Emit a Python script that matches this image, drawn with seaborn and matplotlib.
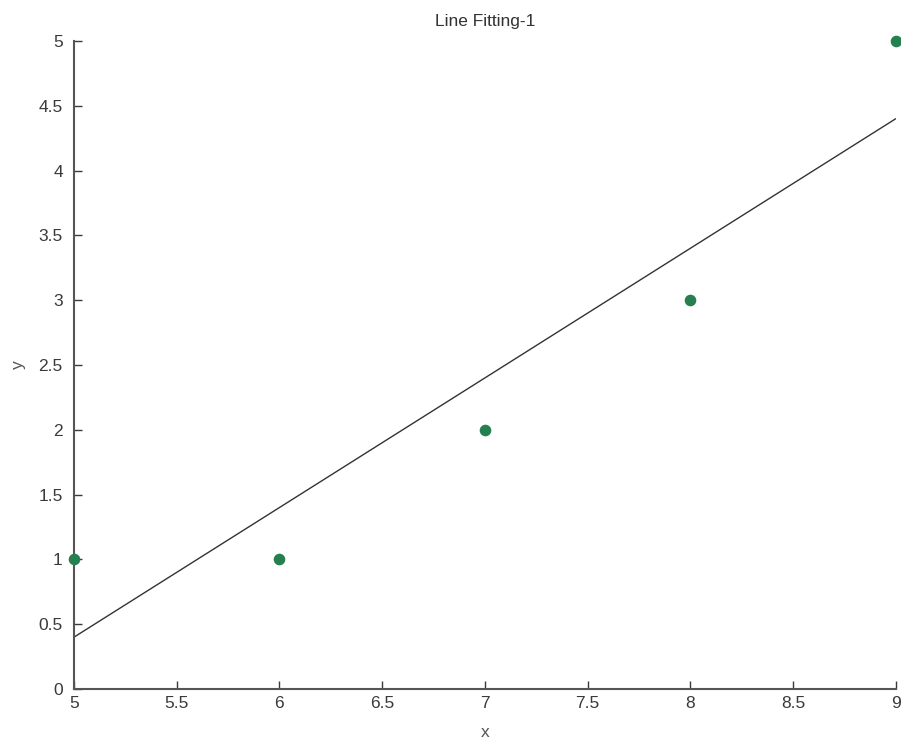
import numpy as np
import pandas as pd
import matplotlib
matplotlib.use("Agg")
import matplotlib.pyplot as plt
import seaborn as sns

# data points
x_vals = [5, 6, 7, 8, 9]
y_vals = [1, 1, 2, 3, 5]
# fitted line endpoints (slope 1, intercept -4.6)
fit_x = [5, 9]
fit_y = [0.4, 4.4]

df = pd.DataFrame({"x": x_vals, "y": y_vals})
fit = pd.DataFrame({"x": fit_x, "y": fit_y})

sns.set_style("ticks")
plt.rcParams["font.family"] = ["Liberation Sans", "DejaVu Sans"]
plt.rcParams["xtick.direction"] = "in"
plt.rcParams["ytick.direction"] = "in"

fig = plt.figure(figsize=(9.01, 7.44), dpi=100)
ax = fig.add_axes([0.0821, 0.0739, 0.912, 0.871])

sns.lineplot(data=fit, x="x", y="y", ax=ax, color="#333333", linewidth=1.0)
sns.scatterplot(data=df, x="x", y="y", ax=ax, color="#24804f", s=70,
                edgecolor="#24804f", linewidth=0, clip_on=False, zorder=3)

ax.set_xlim(5, 9)
ax.set_ylim(0, 5)
ax.set_xticks(np.arange(5, 9.01, 0.5))
ax.set_yticks(np.arange(0, 5.01, 0.5))
ax.set_xticklabels(["5", "5.5", "6", "6.5", "7", "7.5", "8", "8.5", "9"])
ax.set_yticklabels(["0", "0.5", "1", "1.5", "2", "2.5", "3", "3.5", "4", "4.5", "5"])
ax.tick_params(labelsize=12.5, colors="#3a3a3a", length=6, width=1)
ax.tick_params(axis="x", pad=5)
ax.tick_params(axis="y", pad=8)
for s in ["left", "bottom"]:
    ax.spines[s].set_color("#555555")
    ax.spines[s].set_linewidth(1.5)
sns.despine(ax=ax)

ax.set_title("Line Fitting-1", fontsize=12.5, color="#333333", pad=11)
ax.set_xlabel("x", fontsize=12.5, color="#555555", labelpad=10)
ax.set_ylabel("y", fontsize=12.5, color="#555555", labelpad=9)

fig.savefig("out.png", dpi=100)
